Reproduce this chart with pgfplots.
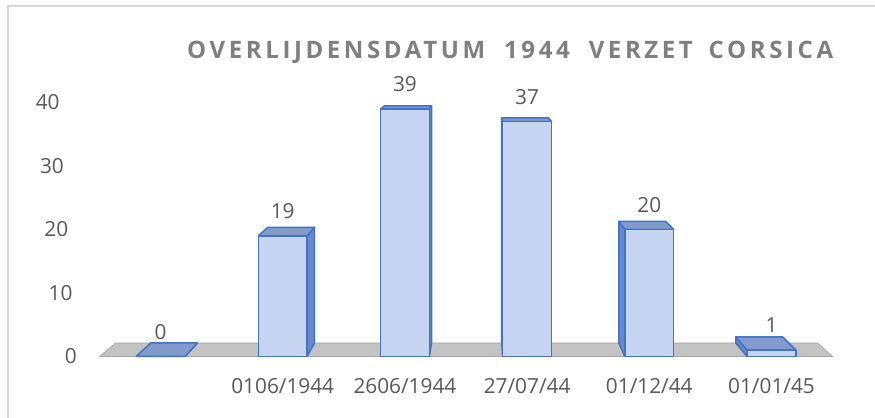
\documentclass[border=0pt]{standalone}
\usepackage{fontspec}
\setmainfont{Open Sans}
\newfontfamily\titlefont[LetterSpace=15]{Open Sans}
\usepackage{pgfplots}
\pgfplotsset{compat=1.18}
\definecolor{frontc}{HTML}{C6D4F1}
\definecolor{sidec}{HTML}{6B88CC}
\definecolor{topc}{HTML}{8499CC}
\definecolor{edgec}{HTML}{4472C4}
\definecolor{floorc}{HTML}{C3C3C3}
\definecolor{labc}{HTML}{595959}
\definecolor{titc}{HTML}{7F7F7F}
\definecolor{framec}{HTML}{D9D9D9}

\def\vx{2.623}
\def\vy{50.3}
\def\sc{0.9577}
\def\bw{0.2}

\newcommand\threedbar[2]{%
  \pgfmathsetmacro\xl{#1-\bw}%
  \pgfmathsetmacro\xr{#1+\bw}%
  \pgfmathsetmacro\bxl{\vx+\sc*(\xl-\vx)}%
  \pgfmathsetmacro\bxr{\vx+\sc*(\xr-\vx)}%
  \pgfmathsetmacro\byt{\vy+\sc*(#2-\vy)}%
  \pgfmathsetmacro\byb{\vy-\sc*\vy}%
  \pgfmathparse{(#1<\vx) ? 1 : 0}%
  \ifdim\pgfmathresult pt>0.5pt
    \edef\sx{\xr}\edef\bsx{\bxr}%
  \else
    \edef\sx{\xl}\edef\bsx{\bxl}%
  \fi
  \edef\tmp{%
    \noexpand\addplot[draw=edgec, line width=1.5bp, fill=sidec, mark=none, line join=round]
      coordinates {(\sx,0) (\sx,#2) (\bsx,\byt) (\bsx,\byb) (\sx,0)};
    \noexpand\addplot[draw=edgec, line width=1.5bp, fill=topc, mark=none, line join=round]
      coordinates {(\xl,#2) (\xr,#2) (\bxr,\byt) (\bxl,\byt) (\xl,#2)};
    \noexpand\addplot[draw=edgec, line width=1.5bp, fill=frontc, mark=none, line join=round]
      coordinates {(\xl,0) (\xr,0) (\xr,#2) (\xl,#2) (\xl,0)};
  }\tmp
}

\begin{document}
\begin{tikzpicture}
\useasboundingbox (0,0) rectangle (875bp,418bp);
\fill[white] (0,0) rectangle (875bp,418bp);
\draw[framec, line width=1.5bp] (8bp,-5bp) -- (8bp,412bp) -- (885bp,412bp);
\begin{axis}[
  at={(87.18bp,61.5bp)}, anchor=south west,
  scale only axis, width=782.08bp, height=317.5bp,
  xmin=-0.6, xmax=5.8, ymin=0, ymax=50,
  clip=false,
  axis line style={draw=none},
  tick style={draw=none},
  major tick length=0pt,
  /pgf/number format/assume math mode=true,
  xtick={1,2,3,4,5},
  xticklabels={0106/1944, 2606/1944, 27/07/44, 01/12/44, 01/01/45},
  xticklabel style={anchor=center, inner sep=0pt, yshift=-29.5bp,
    font=\fontsize{20.8bp}{24bp}\selectfont, text=labc},
  ytick={0,10,20,30,40},
  yticklabel={\pgfmathprintnumber{\tick}\pgfmathparse{0.43*\tick}\hspace*{\pgfmathresult bp}},
  yticklabel style={anchor=east, inner sep=0pt, xshift=-10.2bp,
    font=\fontsize{20.8bp}{24bp}\selectfont, text=labc},
]
% floor
\addplot[fill=floorc, draw=floorc!85!black, line width=0.6bp, mark=none]
  coordinates {(-0.5,0) (5.5,0) (5.378,2.128) (-0.368,2.128) (-0.5,0)};
% bars (category index, value)
\threedbar{0}{0}
\threedbar{1}{19}
\threedbar{2}{39}
\threedbar{3}{37}
\threedbar{4}{20}
\threedbar{5}{1}
% value labels
\addplot[draw=none, mark=none, nodes near coords,
  nodes near coords style={anchor=south, inner sep=0pt, yshift=17bp,
    font=\fontsize{20.8bp}{24bp}\selectfont, text=labc}]
  coordinates {(0,0) (1,19) (2,39) (3,37) (4,20) (5,1)};
\end{axis}
\node[anchor=west, inner sep=0pt, text=titc, font=\titlefont\bfseries\fontsize{24bp}{28bp}\selectfont]
  at (187bp,366bp) {OVERLIJDENSDATUM\hspace*{19bp}1944\hspace*{19bp}VERZET\hspace*{6bp} CORSICA};
\end{tikzpicture}
\end{document}
